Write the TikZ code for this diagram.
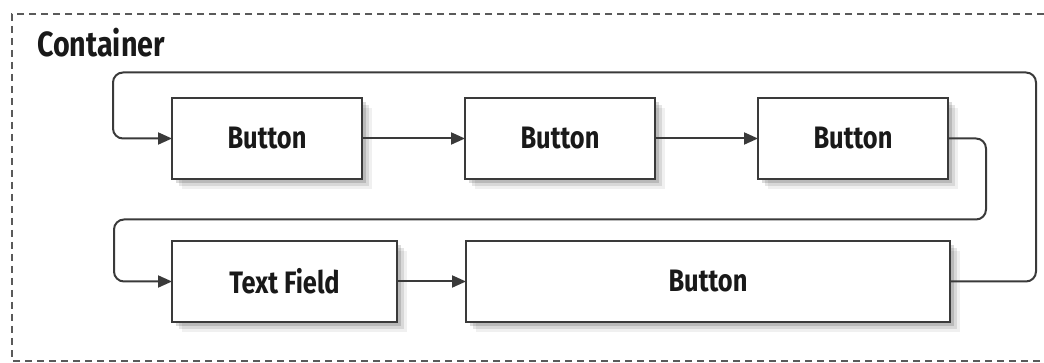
\documentclass[tikz,border=0pt]{standalone}
\usepackage{fontspec}
\newfontfamily\labelfont{Fira Sans}[FakeStretch=0.82]
\usetikzlibrary{positioning,arrows.meta,shadows}

\definecolor{linegray}{HTML}{3A3A3A}
\definecolor{dashgray}{HTML}{5A5A5A}

\begin{document}
\begin{tikzpicture}[
    x=1pt, y=1pt,
    every node/.style={font=\labelfont\bfseries\fontsize{31}{36}\selectfont, text=black!90},
    widget/.style={rectangle, draw=linegray, line width=2.4pt, fill=white,
                   minimum width=190pt, minimum height=81pt, inner sep=0pt, outer sep=0pt,
                   drop shadow={shadow xshift=4pt, shadow yshift=-4pt, opacity=0.14, fill=black},
                   drop shadow={shadow xshift=7pt, shadow yshift=-7pt, opacity=0.10, fill=black},
                   drop shadow={shadow xshift=10pt, shadow yshift=-10pt, opacity=0.06, fill=black}},
    arrow/.style={-{Triangle[length=14pt, width=12pt]}, line width=2pt, draw=linegray},
    loop/.style={arrow, rounded corners=10pt}
]
\useasboundingbox (0,0) rectangle (1044,-363);

% container outline, open to the right
\draw[dashgray, line width=1.6pt, dash pattern=on 7pt off 5pt] (1044,-14) -| (12,-361) -- (1044,-361);
\node[anchor=base west, inner sep=0pt, font=\labelfont\bfseries\fontsize{35}{40}\selectfont] (title) at (37,-57) {Container};

% first row
\node[widget] (b1) at (267,-138.5) {Button};
\node[widget, right=103pt of b1] (b2) {Button};
\node[widget, right=103pt of b2] (b3) {Button};

% second row
\node[widget, minimum width=225pt, below=62pt of b1.south west, anchor=north west] (tf) {Text Field};
\node[widget, minimum width=484pt, right=69pt of tf] (b4) {Button};

\draw[arrow] (b1) -- (b2);
\draw[arrow] (b2) -- (b3);
\draw[arrow] (tf) -- (b4);

% wrap-around focus order
\draw[loop] (b3.east) -- ++(38pt,0) |- ([xshift=-58pt, yshift=62pt]tf.west) |- (tf.west);
\draw[loop] (b4.east) -- ++(86pt,0) |- ([xshift=-59pt, yshift=66pt]b1.west) |- (b1.west);

\end{tikzpicture}
\end{document}
